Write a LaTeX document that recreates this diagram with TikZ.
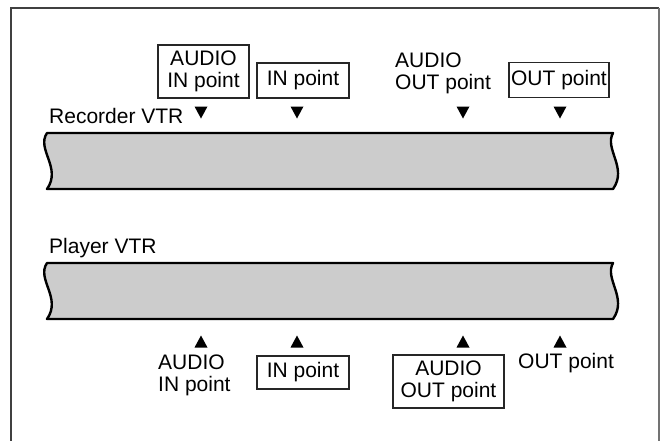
\documentclass[tikz,border=0pt]{standalone}
\usepackage{fontspec}
\setmainfont{Liberation Sans}
\begin{document}
\begin{tikzpicture}[x=1pt,y=-1pt,
  lbl/.style={font=\fontsize{21}{22}\selectfont, inner sep=0pt},
  box/.style={lbl, draw=black!85, line width=1.1pt, align=center},
  free/.style={lbl, align=left},
  tape/.style={fill=black!20, draw=black, line width=2.4pt, line join=round},
  pointer/.style={fill=black, draw=none}]
\useasboundingbox (0,0) rectangle (664,440);
% frame
\draw[black!75, line width=1.5pt] (11,445) -- (11,8) -- (659,8);
\draw[black!55, line width=2.5pt] (659,8) -- (659,445);
% recorder tape
\draw[tape] (47,133) -- (613,133) .. controls (604,149) and (628,168) .. (613,189)
  -- (47,189) .. controls (62,168) and (36,149) .. (47,133) -- cycle;
% player tape
\draw[tape] (47,263) -- (613,263) .. controls (604,279) and (628,298) .. (613,319)
  -- (47,319) .. controls (62,298) and (36,279) .. (47,263) -- cycle;
% labels
\node[lbl, anchor=base west] (rec) at (49,123) {Recorder VTR};
\node[lbl, anchor=base west] (play) at (49,253) {Player VTR};
% top
\node[box, minimum width=91pt, minimum height=53pt] (tain) at (203.5,71.5) {AUDIO\\IN point};
\node[box, minimum width=92pt, minimum height=35pt] (tin) at (303,80.5) {IN point};
\node[free, anchor=north west] (taout) at (395,53) {AUDIO\\OUT point};
\node[box, minimum width=100pt, minimum height=35pt] (tout) at (559,80) {OUT point};
\foreach \cx in {201,297,463,560}
  \fill[pointer] (\cx-6.5,106.5) -- (\cx+6.5,106.5) -- (\cx,118.5) -- cycle;
% bottom
\foreach \cx in {201,297,463,560}
  \fill[pointer] (\cx-6.5,347.5) -- (\cx+6.5,347.5) -- (\cx,335.5) -- cycle;
\node[free, anchor=north west] (bain) at (158,355) {AUDIO\\IN point};
\node[box, minimum width=92pt, minimum height=33pt] (bin) at (303,372.5) {IN point};
\node[box, minimum width=111pt, minimum height=53pt] (baout) at (448.5,381.5) {AUDIO\\OUT point};
\node[free, anchor=north west] (bout) at (518,353) {OUT point};
\end{tikzpicture}
\end{document}
